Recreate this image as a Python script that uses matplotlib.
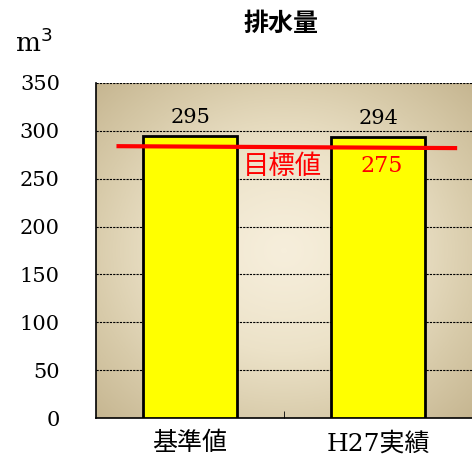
import numpy as np
import matplotlib
matplotlib.use("Agg")
import matplotlib.pyplot as plt
from matplotlib.colors import LinearSegmentedColormap

categories = ["基準値", "H27実績"]
values = [295, 294]
target_label_value = 275
target_line = [284, 282]          # drawn position of red line (left, right)
target_line_x = [-0.38, 1.41]
yticks = [0, 50, 100, 150, 200, 250, 300, 350]

fam = ["DejaVu Serif", "Noto Sans CJK JP"]
plt.rcParams["font.family"] = fam

fig = plt.figure(figsize=(4.72, 4.68), dpi=100)
ax = fig.add_axes([96/472, 1-418/468, 376/472, 335/468])
ax.set_xlim(-0.5, 1.5)
ax.set_ylim(0, 350)

# radial gradient background
nx, ny = 300, 300
xx, yy = np.meshgrid(np.linspace(-1, 1, nx), np.linspace(-1, 1, ny))
r = np.sqrt(xx**2 + yy**2) / np.sqrt(2)
cmap = LinearSegmentedColormap.from_list("bg", ["#f6eedb", "#ece2c8", "#d8cbaa", "#c6b691"])
ax.imshow(r**1.3, cmap=cmap, extent=[-0.5, 1.5, 0, 350], aspect="auto", zorder=0, vmin=0, vmax=1)

for yv in yticks[1:]:
    ax.axhline(yv, color="black", lw=0.8, ls=(0, (2, 1)), zorder=1)

x = np.arange(len(categories))
ax.bar(x, values, width=0.5, color="#ffff00", edgecolor="black", linewidth=2, zorder=3)
for xi, v in zip(x, values):
    ax.text(xi, v + 9, str(v), ha="center", va="bottom", fontsize=15, family=fam, zorder=5)

ax.plot(target_line_x, target_line, color="#ff0000", lw=3, zorder=4)
ax.text(0.49, 263, "目標値", color="#ff0000", ha="center", va="center", fontsize=19, family=fam, zorder=5)
ax.text(1.02, 263, str(target_label_value), color="#ff0000", ha="center", va="center", fontsize=16, family=fam, zorder=5)

ax.set_xticks(x)
ax.set_xticklabels(categories, fontsize=18)
ax.set_xticks([0.5], minor=True)
ax.tick_params(axis="x", which="major", length=0, pad=10)
ax.tick_params(axis="x", which="minor", direction="in", length=5, color="black")
ax.set_yticks(yticks)
ax.set_yticklabels([str(t) for t in yticks], fontsize=15)
ax.tick_params(axis="y", length=0, pad=26)

for s in ["top", "right"]:
    ax.spines[s].set_visible(False)
for s in ["left", "bottom"]:
    ax.spines[s].set_color("black")
    ax.spines[s].set_linewidth(1.2)

fig.text(281/472, 1-24/468, "排水量", ha="center", va="center", fontsize=18, fontweight="bold", family=["Noto Sans CJK JP"])
fig.text(15/472, 1-52/468, "m$^3$", ha="left", va="baseline", fontsize=19, family=fam)

fig.savefig("out.png", dpi=100)
